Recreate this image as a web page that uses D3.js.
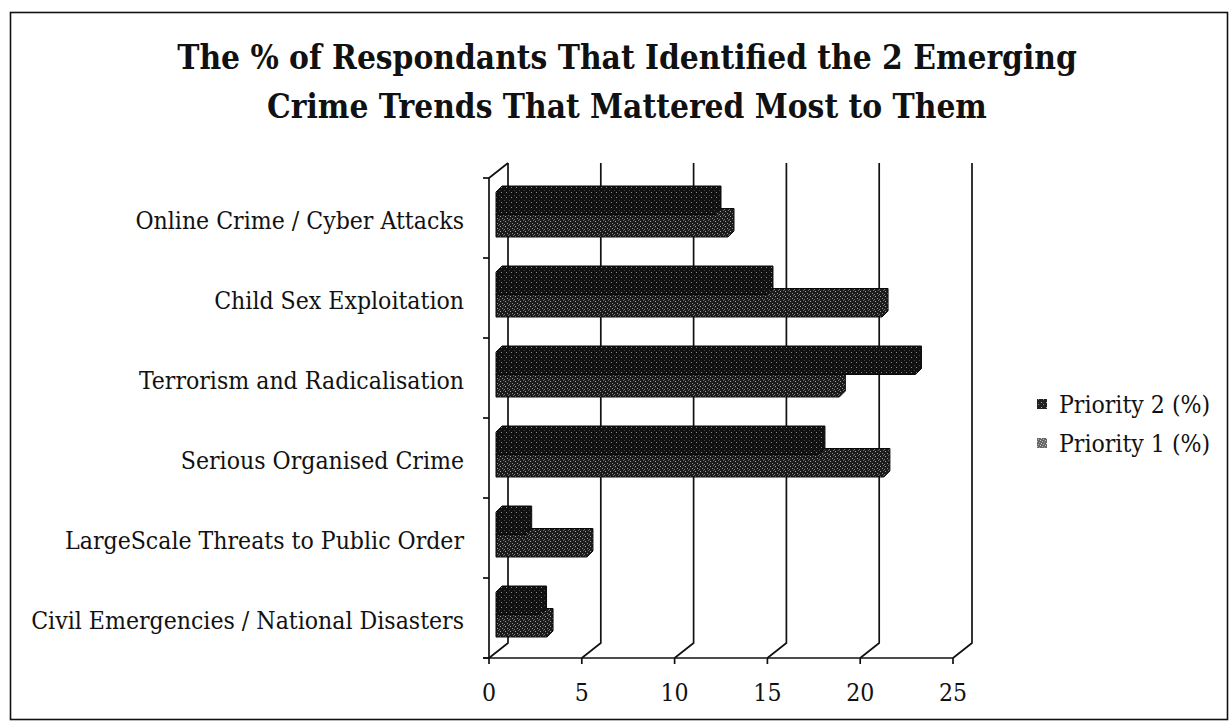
<!DOCTYPE html>
<html>
<head>
<meta charset="utf-8">
<script src="https://cdn.jsdelivr.net/npm/d3@7"></script>
<style>
  html, body { margin: 0; padding: 0; background: #fff; }
  svg { display: block; }
</style>
</head>
<body>
<svg id="chart" width="1232" height="724"></svg>
<script>
// Survey answers: share of respondents naming each emerging crime trend
const categories = [
  "Online Crime / Cyber Attacks",
  "Child Sex Exploitation",
  "Terrorism and Radicalisation",
  "Serious Organised Crime",
  "LargeScale Threats to Public Order",
  "Civil Emergencies / National Disasters"
];
const seriesNames = ["Priority 2 (%)", "Priority 1 (%)"];
const priority2 = [11.8, 14.6, 22.6, 17.4, 1.6, 2.4];
const priority1 = [12.5, 20.8, 18.5, 20.9, 4.9, 2.75];
const xTicks = [0, 5, 10, 15, 20, 25];
const titleLines = [
  "The % of Respondants That Identified the 2 Emerging",
  "Crime Trends That Mattered Most to Them"
];

const svg = d3.select("#chart");
const SERIF = "'DejaVu Serif Condensed', 'DejaVu Serif', serif";

// outer frame
svg.append("rect")
  .attr("x", 10.5).attr("y", 12.5)
  .attr("width", 1217).attr("height", 707)
  .attr("fill", "none").attr("stroke", "#111").attr("stroke-width", 1.6);

// grain patterns for the bar fills
const defs = svg.append("defs");
function grain(id, base, dots) {
  const p = defs.append("pattern")
    .attr("id", id).attr("patternUnits", "userSpaceOnUse")
    .attr("width", 5).attr("height", 5);
  p.append("rect").attr("width", 5).attr("height", 5).attr("fill", base);
  dots.forEach(([x, y, c]) =>
    p.append("rect").attr("x", x).attr("y", y).attr("width", 1).attr("height", 1).attr("fill", c));
}
grain("g2", "#111", [[1, 2, "#8a8a8a"], [4, 0, "#444"]]);
grain("g1", "#1c1c1c", [[0, 1, "#a0a0a0"], [2, 3, "#8c8c8c"], [3, 0, "#666"], [4, 4, "#777"]]);
grain("l2", "#222", [[1, 2, "#aaa"], [3, 4, "#888"]]);
grain("l1", "#666", [[0, 0, "#ccc"], [2, 1, "#bbb"], [1, 3, "#ddd"], [4, 2, "#999"], [3, 4, "#bbb"]]);

// scales: front plane of the 3D floor, plus oblique depth offsets
const x = d3.scaleLinear().domain([0, 25]).range([489, 953]);
const y = d3.scaleBand().domain(categories).range([178, 658]);
const sub = d3.scaleBand().domain(seriesNames).range([14, 59]);
const FLOOR_DX = 19, FLOOR_DY = 15;   // back wall offset
const BAR_DX = 7;                      // bar front face sits a little behind the floor edge
const BAR_D = 6;                       // bar thickness in depth

const axisG = svg.append("g").attr("stroke", "#111").attr("stroke-width", 1.7).attr("fill", "none");

// back-wall gridlines with their slanted floor links
xTicks.forEach(t => {
  const xf = x(t), xb = x(t) + FLOOR_DX;
  axisG.append("path")
    .attr("d", `M${xf},658 L${xb},${658 - FLOOR_DY} L${xb},163`);
});

// front floor edge and value ticks
axisG.append("line").attr("x1", 483).attr("x2", x(25)).attr("y1", 658).attr("y2", 658);
xTicks.forEach(t => {
  axisG.append("line").attr("x1", x(t)).attr("x2", x(t)).attr("y1", 658).attr("y2", 664);
});

// category axis with slanted top
axisG.append("path").attr("d", `M489,658 L489,178 L${489 + FLOOR_DX},163`);
const catEdges = categories.map(c => y(c)).concat([y.range()[1]]);
catEdges.forEach(v => {
  axisG.append("line").attr("x1", 483).attr("x2", 489).attr("y1", v).attr("y2", v);
});

// 3D bars
const rows = categories.map((c, i) => ({ cat: c, values: [priority2[i], priority1[i]] }));
const fills = ["url(#g2)", "url(#g1)"];
function barPath(cat, series, value) {
  const x0 = x(0) + BAR_DX, xe = x(value) + BAR_DX;
  const yTop = y(cat) + sub(series);
  const yBot = yTop + sub.bandwidth();
  return `M${x0},${yBot} L${x0},${yTop} L${x0 + BAR_D},${yTop - BAR_D} ` +
         `L${xe + BAR_D},${yTop - BAR_D} L${xe + BAR_D},${yBot - BAR_D} L${xe},${yBot} Z`;
}
const barG = svg.append("g");
rows.forEach(r => {
  // lower series first so the upper bar's front face covers its top face
  [1, 0].forEach(si => {
    barG.append("path")
      .attr("d", barPath(r.cat, seriesNames[si], r.values[si]))
      .attr("fill", fills[si])
      .attr("stroke", "#0a0a0a").attr("stroke-width", 1);
  });
});

// category labels, sized so the longest one spans the label column
const catLabels = svg.append("g").attr("font-family", SERIF).attr("fill", "#111")
  .attr("text-anchor", "end");
const labelSel = catLabels.selectAll("text").data(categories).join("text")
  .attr("x", 464)
  .attr("y", d => y(d) + y.bandwidth() / 2 + 2)
  .attr("dy", "0.35em")
  .attr("font-size", 20)
  .text(d => d);
const widest = d3.max(labelSel.nodes(), n => n.getComputedTextLength());
labelSel.attr("font-size", 20 * 433 / widest);

// value tick labels
svg.append("g").attr("font-family", SERIF).attr("fill", "#111").attr("text-anchor", "middle")
  .selectAll("text").data(xTicks).join("text")
  .attr("x", d => x(d)).attr("y", 701)
  .attr("font-size", 20 * 433 / widest)
  .text(d => d);

// title
const title = svg.append("g").attr("font-family", SERIF).attr("font-weight", "bold")
  .attr("fill", "#111").attr("text-anchor", "middle");
const tSel = title.selectAll("text").data(titleLines).join("text")
  .attr("x", 627).attr("y", (d, i) => 69 + i * 49)
  .attr("font-size", 30).text(d => d);
const tw = tSel.nodes()[0].getComputedTextLength();
tSel.attr("font-size", 30 * 900 / tw);

// legend
const legend = svg.append("g").attr("font-family", SERIF).attr("fill", "#111");
const legendFills = ["url(#l2)", "url(#l1)"];
seriesNames.forEach((s, i) => {
  const cy = 404 + i * 39;
  legend.append("rect").attr("x", 1037).attr("y", cy - 5).attr("width", 10).attr("height", 10)
    .attr("fill", legendFills[i]);
  legend.append("text").attr("x", 1059).attr("y", cy).attr("dy", "0.35em")
    .attr("font-size", 20 * 433 / widest).text(s);
});
</script>
</body>
</html>
